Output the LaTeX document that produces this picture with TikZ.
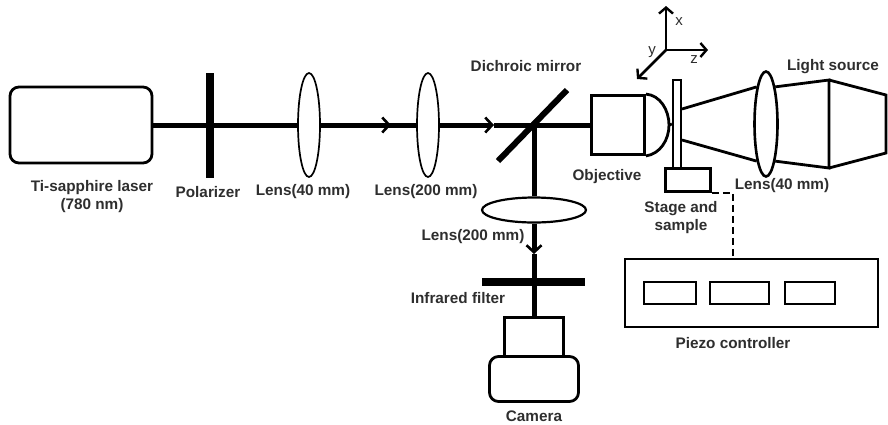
\documentclass[tikz,border=0pt]{standalone}
\usepackage{fontspec}
\setmainfont{Liberation Sans}
\usetikzlibrary{arrows.meta,shapes.geometric}
\definecolor{labelgray}{gray}{0.18}
\tikzset{
    box/.style={draw,line width=2.8pt,rectangle,inner sep=0pt},
    roundbox/.style={box,rounded corners=9pt},
    lens/.style={draw,line width=2.6pt,ellipse,inner sep=0pt},
    thinlens/.style={lens,line width=1.7pt},
    bar/.style={draw=none,fill=black,rectangle,inner sep=0pt},
    beam/.style={line width=5pt},
    outline/.style={line width=2.8pt},
    lbl/.style={text=labelgray,font=\bfseries\fontsize{15.3}{18}\selectfont,align=center,inner sep=0pt},
    axlbl/.style={text=labelgray,font=\fontsize{15}{18}\selectfont,inner sep=0pt},
    axis/.style={outline,-{Straight Barb[length=6pt,width=14pt,line width=2.4pt]}},
    >={Straight Barb[length=7pt,width=15pt,line width=2.6pt]}
}
\begin{document}
\begin{tikzpicture}[x=1pt,y=-1pt]
\useasboundingbox (0,0) rectangle (888,424);

% main row
\node[roundbox,minimum width=142pt,minimum height=76pt] (laser) at (81,125) {};
\node[bar,minimum width=8pt,minimum height=105pt] (polarizer) at (210,125) {};
\node[thinlens,minimum width=22pt,minimum height=104pt] (lensa) at (309,125) {};
\node[thinlens,minimum width=22pt,minimum height=104pt] (lensb) at (428,125) {};
\node[box,minimum width=53pt,minimum height=59pt] (objective) at (618,125) {};
\coordinate (mirrora) at (498,161);
\coordinate (mirrorb) at (567,90);
\coordinate (arrowa) at (391,125);
\coordinate (arrowb) at (494,125);

\draw[beam] (laser) -- (lensa);
\draw[beam] (lensa) -- (lensb);
\draw[beam,->] (lensa) -- (arrowa);
\draw[beam,->] (lensb) -- (arrowb);
\draw[beam] (arrowb) -- (objective);
\draw[line width=6pt] (mirrora) -- (mirrorb);

% objective tip and sample
\node[box,line width=2.2pt,minimum width=8pt,minimum height=88pt] (sample) at (677,124) {};
\node[box,minimum width=45pt,minimum height=23pt] (stage) at (688,180) {};
\coordinate (tip) at (669,125);
\draw[outline] (objective.north east) .. controls (660,95) and (669,110) .. (tip)
    .. controls (669,140) and (660,154) .. (objective.south east);
\draw[outline] (tip) -- (sample.west);

% light source
\node[lens,minimum width=23pt,minimum height=105pt] (lensc) at (766,124) {};
\coordinate (srca) at (829,80);
\coordinate (srcb) at (829,168);
\coordinate (srcc) at (886,95);
\coordinate (srcd) at (886,153);
\draw[outline] (682,109) -- (lensc.104);
\draw[outline] (682,140) -- (lensc.256);
\draw[outline] (lensc.76) -- (srca) -- (srcb) -- (lensc.284);
\draw[outline] (srca) -- (srcc) -- (srcd) -- (srcb);

% axes
\coordinate (origin) at (666,50);
\coordinate (xend) at (666,6);
\coordinate (zend) at (708,50);
\coordinate (yend) at (637,79);
\draw[axis] (origin) -- (xend);
\draw[axis] (origin) -- (zend);
\draw[axis] (origin) -- (yend);
\node[axlbl] (xlabel) at (679,22) {x};
\node[axlbl] (ylabel) at (652,52) {y};
\node[axlbl] (zlabel) at (694,60) {z};

% camera arm
\node[thinlens,line width=2.2pt,minimum width=104pt,minimum height=25pt] (lensd) at (534,210) {};
\node[bar,minimum width=103pt,minimum height=8pt] (filter) at (533,282) {};
\node[box,minimum width=59pt,minimum height=39pt] (camhead) at (534,337) {};
\node[roundbox,minimum width=89pt,minimum height=45pt] (camera) at (534,379) {};
\coordinate (mirrorf) at (534,125);
\coordinate (arrowc) at (534,254);
\draw[beam] (mirrorf) -- (lensd);
\draw[beam,->] (lensd) -- (arrowc);
\draw[beam] (arrowc) -- (camhead);

% piezo controller
\node[box,minimum width=253pt,minimum height=68pt] (piezo) at (751.5,293) {};
\node[box,minimum width=52pt,minimum height=22pt] (knoba) at (670,293) {};
\node[box,minimum width=59pt,minimum height=22pt] (knobb) at (739.5,293) {};
\node[box,minimum width=50pt,minimum height=22pt] (knobc) at (810,293) {};
\draw[outline,dash pattern=on 7pt off 4pt] (stage.south east) -| (733,259);

% labels
\node[lbl] (laserlabel) at (92,197) {Ti-sapphire laser\\(780 nm)};
\node[lbl] (polarizerlabel) at (208,192) {Polarizer};
\node[lbl] (lensalabel) at (303,192) {Lens(40 mm)};
\node[lbl] (lensblabel) at (426,192) {Lens(200 mm)};
\node[lbl] (mirrorlabel) at (526,66) {Dichroic mirror};
\node[lbl] (objlabel) at (607,177) {Objective};
\node[lbl] (stagelabel) at (681,218) {Stage and\\sample};
\node[lbl] (lensclabel) at (782,186) {Lens(40 mm)};
\node[lbl] (sourcelabel) at (833,67) {Light source};
\node[lbl] (lensdlabel) at (473,237) {Lens(200 mm)};
\node[lbl] (filterlabel) at (458,298) {Infrared filter};
\node[lbl] (cameralabel) at (534,416) {Camera};
\node[lbl] (piezolabel) at (733,343) {Piezo controller};
\end{tikzpicture}
\end{document}
